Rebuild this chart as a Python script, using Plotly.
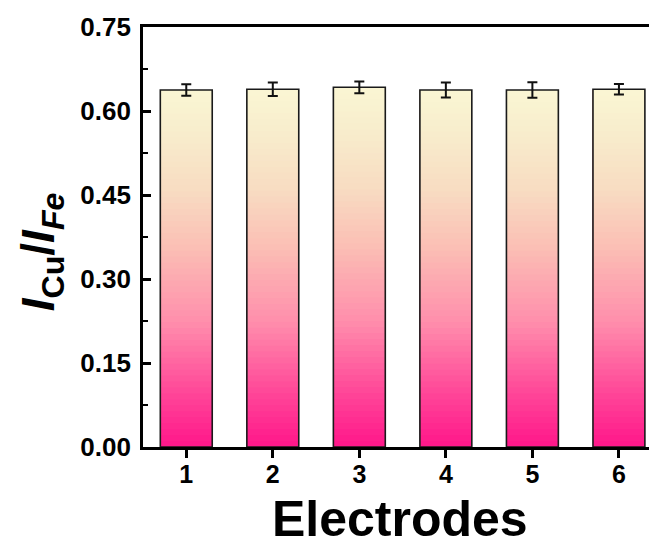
import plotly.graph_objects as go
from plotly.colors import sample_colorscale

# ---- data ----
electrodes = [1, 2, 3, 4, 5, 6]
ratio = [0.6375, 0.6388, 0.6423, 0.6375, 0.6375, 0.6388]
ratio_err = [0.0104, 0.0120, 0.0104, 0.0134, 0.0140, 0.0095]
y_ticks = [0.00, 0.15, 0.30, 0.45, 0.60, 0.75]
x_title = "Electrodes"
y_title = "<i>I</i><sub>Cu</sub>/<i>I</i><sub><i>Fe</i></sub>"

# gradient colours (bottom -> top of bar)
grad_scale = [
    [0.00, "#FF168A"],
    [0.15, "#FF4698"],
    [0.35, "#FF8EAC"],
    [0.55, "#FBBDB4"],
    [0.72, "#F8DCC2"],
    [0.88, "#F8EDCC"],
    [1.00, "#FAF6D4"],
]
N_SEG = 60
BAR_W = 0.6

fig = go.Figure()

# gradient fill: each layer starts higher and is painted over the previous one
for k in range(N_SEG):
    frac = (k + 0.5) / N_SEG
    col = sample_colorscale(grad_scale, [frac])[0]
    fig.add_trace(go.Bar(
        x=electrodes,
        y=[v * (N_SEG - k) / N_SEG for v in ratio],
        base=[v * k / N_SEG for v in ratio],
        width=BAR_W,
        marker=dict(color=col, line=dict(width=0)),
        hoverinfo="skip",
        showlegend=False,
    ))

# outline + error bars
fig.add_trace(go.Bar(
    x=electrodes,
    y=ratio,
    width=BAR_W,
    marker=dict(color="rgba(0,0,0,0)", line=dict(color="#1a1a1a", width=1.6)),
    error_y=dict(type="data", array=ratio_err, visible=True,
                 color="#111111", thickness=2, width=5),
    showlegend=False,
))

font_main = dict(family="Arial, Liberation Sans, sans-serif", color="black")

# page body adds an 8px margin, so the figure is sized 8px smaller
fig.update_layout(
    width=649, height=538,
    margin=dict(l=135, r=0, t=19, b=99),
    paper_bgcolor="white", plot_bgcolor="white",
    barmode="overlay",
    showlegend=False,
    xaxis=dict(
        range=[0.5, 6.44],
        tickvals=electrodes,
        ticktext=[str(e) for e in electrodes],
        ticks="outside", ticklen=8, tickwidth=2.5, tickcolor="black",
        showline=True, linecolor="black", linewidth=2.8, mirror=True,
        showgrid=False, zeroline=False, automargin=False,
        ticklabelstandoff=-5,
        tickfont=dict(size=25, weight="bold", **font_main),
    ),
    yaxis=dict(
        range=[0, 0.75],
        tickvals=y_ticks,
        tickformat=".2f",
        ticks="inside", ticklen=8, tickwidth=2.5, tickcolor="black",
        minor=dict(ticks="inside", ticklen=5, tickwidth=2.2, tickcolor="black",
                   dtick=0.075, showgrid=False),
        showline=True, linecolor="black", linewidth=2.8, mirror=False,
        showgrid=False, zeroline=False, automargin=False,
        ticklabelstandoff=4,
        tickfont=dict(size=26, weight="bold", **font_main),
    ),
    annotations=[
        dict(text=x_title, xref="paper", yref="paper", x=0.5, y=-0.171,
             xanchor="center", yanchor="middle", showarrow=False,
             font=dict(size=50, weight="bold", **font_main)),
        dict(text=y_title, xref="paper", yref="paper", x=-0.198, y=0.464,
             xanchor="center", yanchor="middle", showarrow=False, textangle=-90,
             borderpad=0,
             font=dict(size=46, weight="bold", **font_main)),
    ],
)

fig.write_html("out.html")
